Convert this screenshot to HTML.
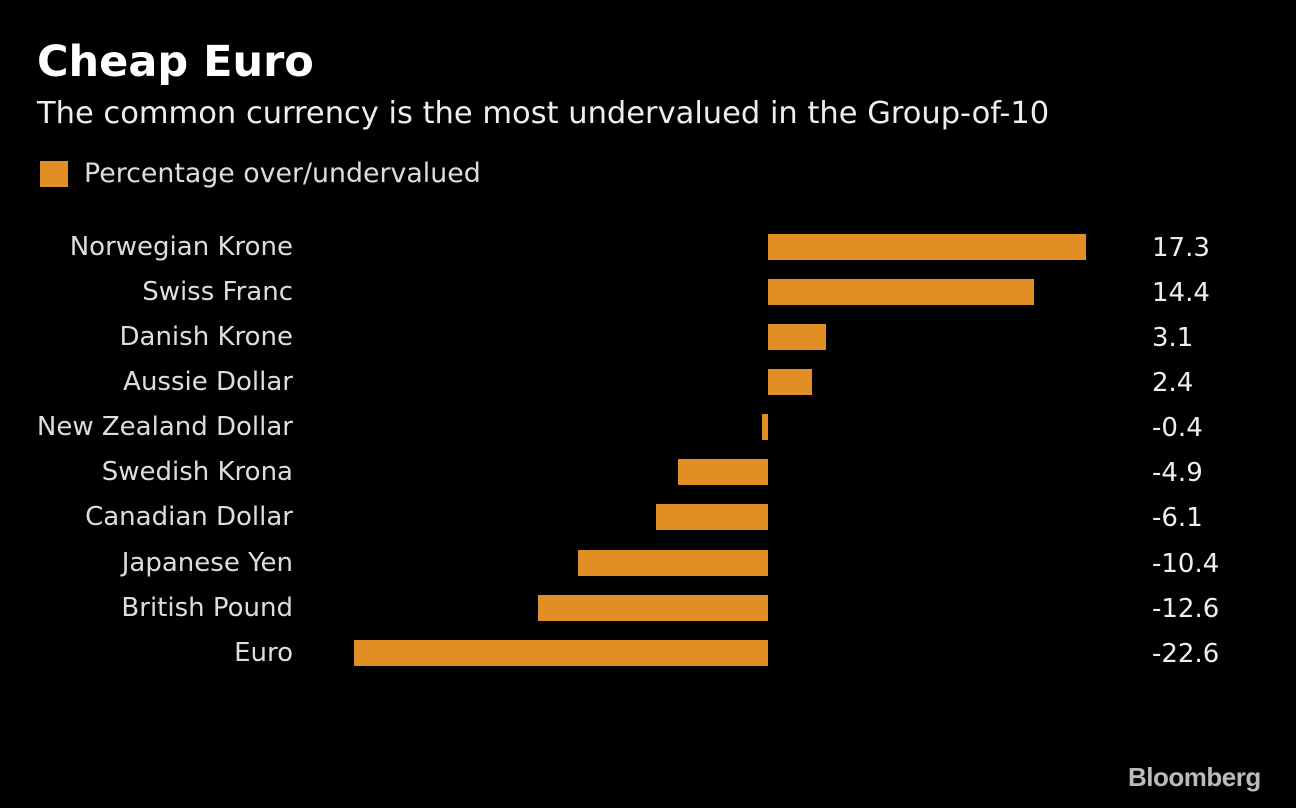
<!DOCTYPE html>
<html><head><meta charset="utf-8"><style>
body{margin:0;width:1296px;height:808px;background:#000;overflow:hidden;font-family:"DejaVu Sans",sans-serif;position:relative;color:#ddd}
.t{position:absolute;white-space:nowrap}
.bar{position:absolute;background:#e18e25;height:26px}
.lab{position:absolute;right:1003px;font-size:26px;line-height:30px;text-align:right;white-space:nowrap;color:#ddd}
.val{position:absolute;left:1152px;font-size:26px;line-height:30px;color:#eee}
</style></head><body>
<div class="t" style="left:37px;top:37px;font-size:43px;font-weight:bold;color:#fff">Cheap Euro</div>
<div class="t" style="left:37px;top:96px;font-size:30.5px;color:#eee">The common currency is the most undervalued in the Group-of-10</div>
<div style="position:absolute;left:40px;top:161px;width:28px;height:26px;background:#e18e25"></div>
<div class="t" style="left:84px;top:158px;font-size:26.8px;color:#ddd">Percentage over/undervalued</div>

<div class="lab" style="top:232px">Norwegian Krone</div><div class="bar" style="left:768px;width:318px;top:234px"></div><div class="val" style="top:233px">17.3</div>
<div class="lab" style="top:277px">Swiss Franc</div><div class="bar" style="left:768px;width:266px;top:279px"></div><div class="val" style="top:278px">14.4</div>
<div class="lab" style="top:322px">Danish Krone</div><div class="bar" style="left:768px;width:58px;top:324px"></div><div class="val" style="top:323px">3.1</div>
<div class="lab" style="top:367px">Aussie Dollar</div><div class="bar" style="left:768px;width:44px;top:369px"></div><div class="val" style="top:368px">2.4</div>
<div class="lab" style="top:412px">New Zealand Dollar</div><div class="bar" style="left:762px;width:6px;top:414px"></div><div class="val" style="top:413px">-0.4</div>
<div class="lab" style="top:457px">Swedish Krona</div><div class="bar" style="left:678px;width:90px;top:459px"></div><div class="val" style="top:458px">-4.9</div>
<div class="lab" style="top:502px">Canadian Dollar</div><div class="bar" style="left:656px;width:112px;top:504px"></div><div class="val" style="top:503px">-6.1</div>
<div class="lab" style="top:548px">Japanese Yen</div><div class="bar" style="left:578px;width:190px;top:550px"></div><div class="val" style="top:549px">-10.4</div>
<div class="lab" style="top:593px">British Pound</div><div class="bar" style="left:538px;width:230px;top:595px"></div><div class="val" style="top:594px">-12.6</div>
<div class="lab" style="top:638px">Euro</div><div class="bar" style="left:354px;width:414px;top:640px"></div><div class="val" style="top:639px">-22.6</div>

<div class="t" style="left:1128px;top:762px;font-family:'Liberation Sans',sans-serif;font-size:26px;font-weight:bold;color:#bbb;letter-spacing:-0.5px">Bloomberg</div>
</body></html>
